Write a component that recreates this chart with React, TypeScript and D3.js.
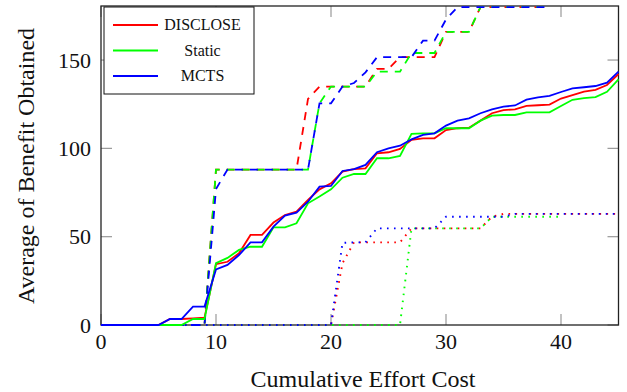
import React from "react";
import * as d3 from "d3";

// Cumulative effort (x) at which each average benefit value is recorded
const effortSteps = [
  0, 1, 2, 3, 4, 5, 6, 7, 8, 9, 10, 11, 12, 13, 14, 15, 16, 17, 18, 19, 20, 21, 22,
  23, 24, 25, 26, 27, 28, 29, 30, 31, 32, 33, 34, 35, 36, 37, 38, 39, 40, 41, 42, 43,
  44, 45,
];

// Solid series
const discloseSolid = [
  0, 0, 0, 0, 0, 0, 3.4, 3.4, 3.8, 4.2, 34.4, 35.8, 40.6, 51, 51, 58, 62.3, 64.2, 70.8,
  76.8, 80.2, 86.8, 88.2, 88.7, 97.2, 97.8, 99.7, 104.8, 105.7, 105.7, 110.4, 111.4,
  111.7, 115.7, 119.9, 121.7, 122.1, 124, 124.4, 124.8, 128.2, 130.2, 132.1, 133.1,
  135.9, 142.1,
];
const staticSolid = [
  0, 0, 0, 0, 0, 0, 0, 0, 3.4, 3.4, 35, 38, 42.5, 44.3, 44.3, 55.3, 55.3, 57.6, 68.9,
  72.7, 76.8, 83.4, 85.5, 85.5, 94.4, 94.4, 95.7, 108.2, 108.5, 108.5, 111.4, 111.4,
  111.4, 115.7, 118.5, 118.9, 118.9, 120.4, 120.4, 120.4, 124, 127.5, 128.5, 129, 132,
  139.1,
];
const mctsSolid = [
  0, 0, 0, 0, 0, 0, 3.4, 3.4, 10.4, 10.4, 31.5, 34, 39.6, 46.8, 46.8, 55.7, 61.9, 63.6,
  69.8, 78.3, 78.7, 87.2, 88.3, 90.6, 97.8, 100, 101.5, 105.1, 107.6, 108.5, 112.9,
  115.7, 117, 119.9, 122.1, 123.6, 124.3, 127.6, 128.9, 129.7, 131.9, 134, 134.6,
  135.3, 137.2, 143.4,
];

// Dashed series
const discloseDashed = [
  0, 0, 0, 0, 0, 0, 0, 0, 0, 0, 88, 88, 88, 88, 88, 88, 88, 88, 128, 135, 135, 135, 135,
  135, 145, 145, 151.6, 151.6, 151.6, 151.6, 166, 166, 166, 180, 180, 180, 180, 180,
  180, 180,
];
const staticDashed = [
  0, 0, 0, 0, 0, 0, 0, 0, 0, 0, 88, 88, 88, 88, 88, 88, 88, 88, 88, 125.5, 135, 135, 135,
  135, 143.4, 143.4, 143.4, 154, 154, 154, 166, 166, 166, 180, 180, 180, 180, 180, 180,
  180,
];
const mctsDashed = [
  0, 0, 0, 0, 0, 0, 0, 0, 0, 0, 77, 88, 88, 88, 88, 88, 88, 88, 88, 125.5, 125.5, 135,
  137, 143, 151.6, 151.6, 151.6, 151.6, 161, 161, 173, 180, 180, 180, 180, 180, 180,
  180, 180, 180,
];

// Dotted series
const discloseDotted = [
  0, 0, 0, 0, 0, 0, 0, 0, 0, 0, 0, 0, 0, 0, 0, 0, 0, 0, 0, 0, 0, 35, 46.8, 46.8, 46.8,
  46.8, 46.8, 54.7, 54.7, 54.7, 54.7, 54.7, 54.7, 54.7, 61.3, 62.9, 62.9, 62.9, 62.9,
  62.9, 62.9, 62.9, 62.9, 62.9, 62.9, 62.9,
];
const staticDotted = [
  0, 0, 0, 0, 0, 0, 0, 0, 0, 0, 0, 0, 0, 0, 0, 0, 0, 0, 0, 0, 0, 0, 0, 0, 0, 0, 0, 54.7,
  54.7, 54.7, 54.7, 54.7, 54.7, 54.7, 61.3, 61.3, 61.3, 61.3, 61.3, 61.3, 61.3,
];
const mctsDotted = [
  0, 0, 0, 0, 0, 0, 0, 0, 0, 0, 0, 0, 0, 0, 0, 0, 0, 0, 0, 0, 0, 46.5, 46.8, 46.8, 54.7,
  54.7, 54.7, 54.7, 54.7, 54.7, 61.3, 61.3, 61.3, 61.3, 61.3, 61.3, 62.9, 62.9, 62.9,
  62.9, 62.9, 62.9, 62.9, 62.9, 62.9, 62.9,
];

const methodNames = ["DISCLOSE", "Static", "MCTS"];
const methodColors = ["#ff0000", "#00ff00", "#0000ff"];
const xTicks = [0, 10, 20, 30, 40];
const yTicks = [0, 50, 100, 150];

const W = 627;
const H = 392;
const left = 101;
const right = 618.5;
const top = 6;
const bottom = 325;

const x = d3.scaleLinear().domain([0, 45]).range([left, right]);
const y = d3.scaleLinear().domain([0, 180.6]).range([bottom, top]);

const line = d3
  .line<number>()
  .x((_, i) => x(effortSteps[i]))
  .y((d) => y(d));

const FONT = '"Liberation Serif", "DejaVu Serif", serif';
const textStyle = { fontFamily: FONT };

type Series = { values: number[]; color: string; dash?: string };

const groups: Series[][] = [
  [
    { values: discloseDotted, color: methodColors[0], dash: "1.6 5.4" },
    { values: staticDotted, color: methodColors[1], dash: "1.6 5.4" },
    { values: mctsDotted, color: methodColors[2], dash: "1.6 5.4" },
  ],
  [
    { values: discloseDashed, color: methodColors[0], dash: "8 7" },
    { values: staticDashed, color: methodColors[1], dash: "8 7" },
    { values: mctsDashed, color: methodColors[2], dash: "8 7" },
  ],
  [
    { values: discloseSolid, color: methodColors[0] },
    { values: staticSolid, color: methodColors[1] },
    { values: mctsSolid, color: methodColors[2] },
  ],
];

export default function App() {
  const tickLen = 11;
  return (
    <svg
      width={W}
      height={H}
      style={{ position: "absolute", left: 0, top: 0, background: "#fff" }}
    >
      <rect x={0} y={0} width={W} height={H} fill="#fff" />

      {/* inward ticks on all four sides */}
      <g stroke="#999" strokeWidth={1.2}>
        {xTicks.map((t) => (
          <g key={"xt" + t}>
            <line x1={x(t)} x2={x(t)} y1={bottom} y2={bottom - tickLen} />
            <line x1={x(t)} x2={x(t)} y1={top} y2={top + tickLen} />
          </g>
        ))}
        {yTicks.map((t) => (
          <g key={"yt" + t}>
            <line x1={left} x2={left + tickLen} y1={y(t)} y2={y(t)} />
            <line x1={right} x2={right - tickLen} y1={y(t)} y2={y(t)} />
          </g>
        ))}
      </g>

      {/* plot frame */}
      <rect
        x={left}
        y={top}
        width={right - left}
        height={bottom - top}
        fill="none"
        stroke="#222"
        strokeWidth={1.3}
      />

      {/* series */}
      {groups.map((g, gi) => (
        <g key={"g" + gi}>
          {g.map((s, si) => (
            <path
              key={si}
              d={line(s.values) || ""}
              fill="none"
              stroke={s.color}
              strokeWidth={gi === 0 ? 1.9 : 1.8}
              strokeDasharray={s.dash}
            />
          ))}
        </g>
      ))}

      {/* tick labels */}
      <g fill="#111">
        {xTicks.map((t) => (
          <text key={"xl" + t} x={x(t)} y={349} fontSize={22} textAnchor="middle" style={textStyle}>
            {t}
          </text>
        ))}
        {yTicks.map((t) => (
          <text key={"yl" + t} x={91} y={y(t) + 7.5} fontSize={22} textAnchor="end" style={textStyle}>
            {t}
          </text>
        ))}
      </g>

      {/* axis titles */}
      <text x={363} y={387} fontSize={24} textAnchor="middle" fill="#111" style={textStyle}>
        Cumulative Effort Cost
      </text>
      <text
        transform={`translate(34, 166) rotate(-90)`}
        fontSize={24}
        textAnchor="middle"
        fill="#111"
        style={textStyle}
      >
        Average of Benefit Obtained
      </text>

      {/* legend */}
      <g>
        <rect x={104} y={7} width={150} height={87} fill="#fff" stroke="#111" strokeWidth={1} />
        {methodNames.map((name, i) => {
          const ly = 25 + i * 25.5;
          return (
            <g key={name}>
              <line x1={113} x2={158} y1={ly} y2={ly} stroke={methodColors[i]} strokeWidth={1.8} />
              <text
                x={202.5}
                y={ly + 5}
                fontSize={16}
                textAnchor="middle"
                fill="#111"
                style={textStyle}
              >
                {name}
              </text>
            </g>
          );
        })}
      </g>
    </svg>
  );
}
